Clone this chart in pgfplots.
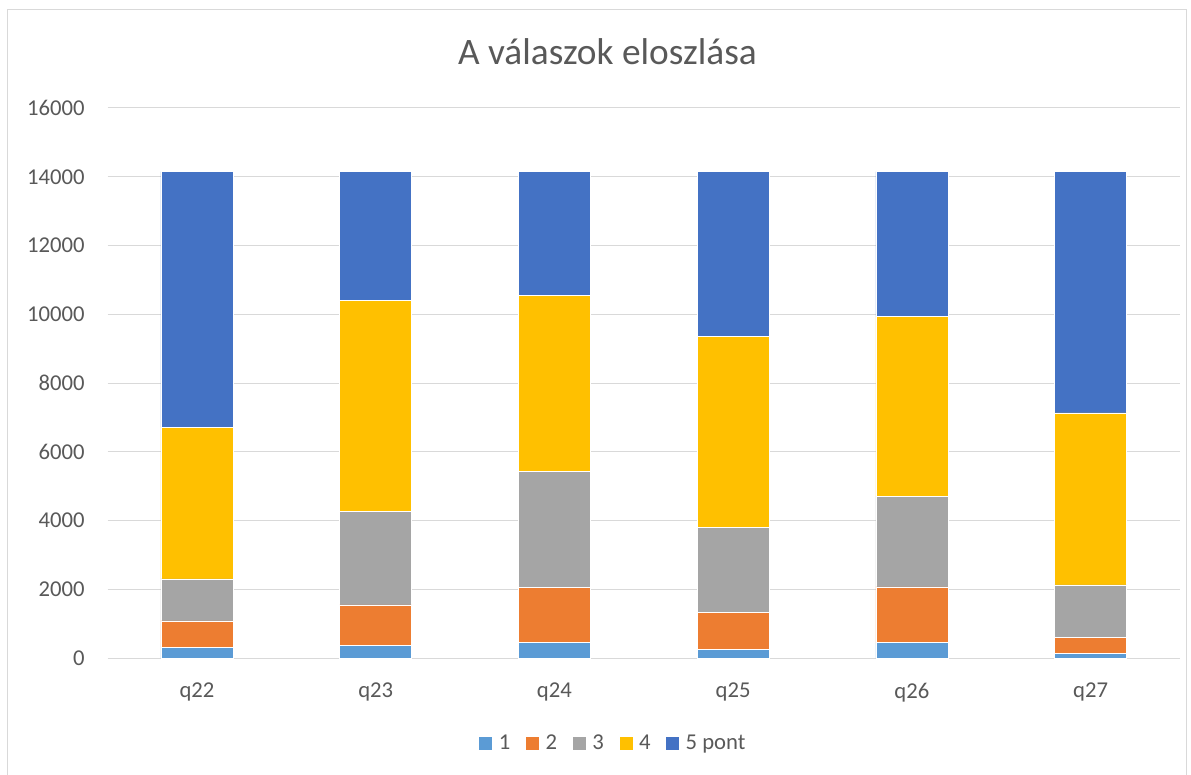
\documentclass[border=0pt]{standalone}
\usepackage{pgfplots}
\pgfplotsset{compat=1.18}
\usepackage{fontspec}
\setmainfont{Carlito}
\definecolor{txt}{HTML}{595959}
\definecolor{gridc}{HTML}{D9D9D9}
\definecolor{cA}{HTML}{5B9BD5}
\definecolor{cB}{HTML}{ED7D31}
\definecolor{cC}{HTML}{A5A5A5}
\definecolor{cD}{HTML}{FFC000}
\definecolor{cE}{HTML}{4472C4}
\begin{document}
\begin{tikzpicture}
\useasboundingbox (0,0) rectangle (893.25pt,580.5pt);
\fill[white] (0,0) rectangle (893.25pt,580.5pt);
\draw[gridc, line width=0.75pt] (5.6pt,-2pt) -- (5.6pt,573.4pt) -- (889.5pt,573.4pt) -- (889.5pt,-2pt);
\node[anchor=base, text=txt, font=\fontsize{28}{33}\selectfont] at (455.6pt,531.75pt) {A válaszok eloszlása};
\begin{axis}[
  at={(80.7pt,86.8pt)}, anchor=south west,
  scale only axis, width=804.3pt, height=412.7pt,
  ybar stacked, bar width=54pt,
  xmin=-0.5, xmax=5.5, ymin=0, ymax=16000,
  xtick={0,1,2,3,4,5},
  xticklabels={q22,q23,q24,q25,q26,q27},
  ytick={0,2000,4000,6000,8000,10000,12000,14000,16000},
  scaled y ticks=false,
  /pgf/number format/.cd, 1000 sep={}, assume math mode=true, /pgfplots/.cd,
  major tick length=0pt,
  axis line style={draw=none},
  ymajorgrids, grid style={gridc, line width=0.75pt},
  tick label style={text=txt, font=\fontsize{17}{20}\selectfont},
  yticklabel style={anchor=east, inner sep=0pt, xshift=-17pt},
  xticklabel style={anchor=north, inner sep=0pt, yshift=-18.5pt},
  legend style={at={(0.4703,-0.154)}, anchor=center, draw=none, fill=none,
    legend columns=-1, font=\fontsize{17}{20}\selectfont, text=txt,
    column sep=4.5pt,
    /tikz/every even column/.append style={column sep=11pt},
    nodes={inner sep=0pt}},
  legend image code/.code={\fill[#1] (0pt,-5.25pt) rectangle (10.5pt,5.25pt);},
  every axis plot/.append style={draw=white, line width=0.4pt},
]
\addplot[fill=cA] coordinates {(0,320) (1,367) (2,466) (3,253) (4,457) (5,146)};
\addplot[fill=cB] coordinates {(0,767) (1,1185) (2,1593) (3,1078) (4,1620) (5,457)};
\addplot[fill=cC] coordinates {(0,1222) (1,2717) (2,3375) (3,2475) (4,2640) (5,1532)};
\addplot[fill=cD] coordinates {(0,4409) (1,6127) (2,5108) (3,5559) (4,5222) (5,5000)};
\addplot[fill=cE] coordinates {(0,7432) (1,3754) (2,3608) (3,4785) (4,4211) (5,7015)};
\legend{1,2,3,4,5 pont}
\end{axis}
\end{tikzpicture}
\end{document}
